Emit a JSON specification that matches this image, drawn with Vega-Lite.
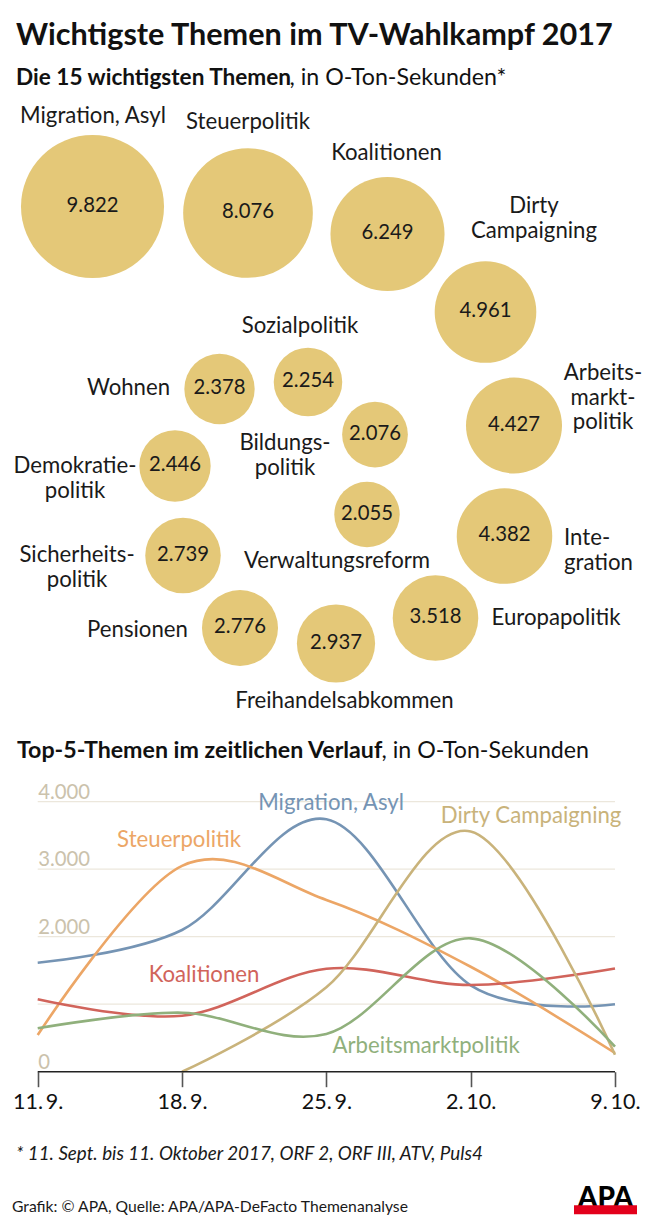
{
  "$schema": "https://vega.github.io/schema/vega-lite/v6.json",
  "padding": 0,
  "spacing": 0,
  "bounds": "flush",
  "background": "white",
  "config": {
    "font": "Lato",
    "view": {"stroke": null},
    "text": {"font": "Lato"},
    "axis": {"labelFont": "Lato"},
    "locale": {
      "number": {"decimal": ",", "thousands": ".", "grouping": [3], "currency": ["", " €"]}
    }
  },
  "datasets": {
    "themen": [
      {"thema": "Migration, Asyl", "etikett": "Migration, Asyl", "sekunden": 9822, "x": 92.5, "y": 206.5, "tx": 93, "ty": 123},
      {"thema": "Steuerpolitik", "etikett": "Steuerpolitik", "sekunden": 8076, "x": 248, "y": 213, "tx": 248, "ty": 129},
      {"thema": "Koalitionen", "etikett": "Koalitionen", "sekunden": 6249, "x": 387.5, "y": 234, "tx": 386.5, "ty": 160},
      {"thema": "Dirty Campaigning", "etikett": "Dirty\nCampaigning", "sekunden": 4961, "x": 485.5, "y": 312, "tx": 534, "ty": 213},
      {"thema": "Arbeitsmarktpolitik", "etikett": "Arbeits-\nmarkt-\npolitik", "sekunden": 4427, "x": 514, "y": 425.5, "tx": 603, "ty": 380},
      {"thema": "Integration", "etikett": "Inte-\ngration", "sekunden": 4382, "x": 504.5, "y": 536, "tx": 564, "ty": 545},
      {"thema": "Europapolitik", "etikett": "Europapolitik", "sekunden": 3518, "x": 435.5, "y": 618, "tx": 556, "ty": 625},
      {"thema": "Freihandelsabkommen", "etikett": "Freihandelsabkommen", "sekunden": 2937, "x": 336, "y": 643.5, "tx": 344.5, "ty": 708},
      {"thema": "Pensionen", "etikett": "Pensionen", "sekunden": 2776, "x": 240, "y": 628, "tx": 137.5, "ty": 637},
      {"thema": "Sicherheitspolitik", "etikett": "Sicherheits-\npolitik", "sekunden": 2739, "x": 183, "y": 555.5, "tx": 77, "ty": 562},
      {"thema": "Demokratiepolitik", "etikett": "Demokratie-\npolitik", "sekunden": 2446, "x": 175, "y": 466, "tx": 75, "ty": 473},
      {"thema": "Wohnen", "etikett": "Wohnen", "sekunden": 2378, "x": 219.5, "y": 389, "tx": 128.5, "ty": 395},
      {"thema": "Sozialpolitik", "etikett": "Sozialpolitik", "sekunden": 2254, "x": 308, "y": 382, "tx": 300, "ty": 333},
      {"thema": "Bildungspolitik", "etikett": "Bildungs-\npolitik", "sekunden": 2076, "x": 375, "y": 434.5, "tx": 285, "ty": 450},
      {"thema": "Verwaltungsreform", "etikett": "Verwaltungsreform", "sekunden": 2055, "x": 367, "y": 514.5, "tx": 337, "ty": 568}
    ],
    "verlauf": [
      {"datum": "2017-09-11", "thema": "Migration, Asyl", "sekunden": 1615},
      {"datum": "2017-09-18", "thema": "Migration, Asyl", "sekunden": 2100},
      {"datum": "2017-09-25", "thema": "Migration, Asyl", "sekunden": 3740},
      {"datum": "2017-10-02", "thema": "Migration, Asyl", "sekunden": 1280},
      {"datum": "2017-10-09", "thema": "Migration, Asyl", "sekunden": 1000},
      {"datum": "2017-09-11", "thema": "Steuerpolitik", "sekunden": 543},
      {"datum": "2017-09-18", "thema": "Steuerpolitik", "sekunden": 3050},
      {"datum": "2017-09-25", "thema": "Steuerpolitik", "sekunden": 2545},
      {"datum": "2017-10-02", "thema": "Steuerpolitik", "sekunden": 1555},
      {"datum": "2017-10-09", "thema": "Steuerpolitik", "sekunden": 277},
      {"datum": "2017-09-11", "thema": "Koalitionen", "sekunden": 1072},
      {"datum": "2017-09-18", "thema": "Koalitionen", "sekunden": 830},
      {"datum": "2017-09-25", "thema": "Koalitionen", "sekunden": 1525},
      {"datum": "2017-10-02", "thema": "Koalitionen", "sekunden": 1284},
      {"datum": "2017-10-09", "thema": "Koalitionen", "sekunden": 1530},
      {"datum": "2017-09-18", "thema": "Dirty Campaigning", "sekunden": 0},
      {"datum": "2017-09-25", "thema": "Dirty Campaigning", "sekunden": 1250},
      {"datum": "2017-10-02", "thema": "Dirty Campaigning", "sekunden": 3560},
      {"datum": "2017-10-09", "thema": "Dirty Campaigning", "sekunden": 250},
      {"datum": "2017-09-11", "thema": "Arbeitsmarktpolitik", "sekunden": 643},
      {"datum": "2017-09-18", "thema": "Arbeitsmarktpolitik", "sekunden": 874},
      {"datum": "2017-09-25", "thema": "Arbeitsmarktpolitik", "sekunden": 560},
      {"datum": "2017-10-02", "thema": "Arbeitsmarktpolitik", "sekunden": 1976},
      {"datum": "2017-10-09", "thema": "Arbeitsmarktpolitik", "sekunden": 370}
    ],
    "reihen": [
      {"thema": "Migration, Asyl", "datum": "2017-09-25T05:30:00Z", "sekunden": 3877},
      {"thema": "Steuerpolitik", "datum": "2017-09-17T20:31:00Z", "sekunden": 3329},
      {"thema": "Koalitionen", "datum": "2017-09-19T01:36:00Z", "sekunden": 1329},
      {"thema": "Dirty Campaigning", "datum": "2017-10-04T22:19:00Z", "sekunden": 3684},
      {"thema": "Arbeitsmarktpolitik", "datum": "2017-09-29T20:05:00Z", "sekunden": 277}
    ],
    "raster": [
      {"stufe": 1000}, {"stufe": 2000}, {"stufe": 3000}, {"stufe": 4000}
    ]
  },
  "vconcat": [
    {
      "width": 650,
      "height": 770,
      "layer": [
        {
          "data": {"values": [{}]},
          "mark": {"type": "text", "text": "Wichtigste Themen im TV-Wahlkampf 2017", "align": "left", "baseline": "alphabetic", "fontSize": 30.6, "fontWeight": "bold", "color": "#111111"},
          "encoding": {
            "x": {"datum": 16, "type": "quantitative", "scale": {"domain": [0, 650], "nice": false, "zero": false}, "axis": null},
            "y": {"datum": 45, "type": "quantitative", "scale": {"domain": [0, 770], "nice": false, "zero": false, "reverse": true}, "axis": null}
          }
        },
        {
          "data": {"values": [{}]},
          "mark": {"type": "text", "text": "Die 15 wichtigsten Themen", "align": "left", "baseline": "alphabetic", "fontSize": 22.6, "fontWeight": "bold", "color": "#111111"},
          "encoding": {
            "x": {"datum": 16, "type": "quantitative", "axis": null},
            "y": {"datum": 85, "type": "quantitative", "axis": null}
          }
        },
        {
          "data": {"values": [{}]},
          "mark": {"type": "text", "text": ", in O-Ton-Sekunden*", "align": "left", "baseline": "alphabetic", "fontSize": 23.2, "color": "#111111"},
          "encoding": {
            "x": {"datum": 289.5, "type": "quantitative", "axis": null},
            "y": {"datum": 85, "type": "quantitative", "axis": null}
          }
        },
        {
          "data": {"name": "themen"},
          "mark": {"type": "circle", "color": "#e4c878", "opacity": 1, "stroke": null},
          "encoding": {
            "x": {"field": "x", "type": "quantitative", "axis": null},
            "y": {"field": "y", "type": "quantitative", "axis": null},
            "size": {"field": "sekunden", "type": "quantitative", "scale": {"type": "linear", "domain": [0, 10000], "range": [0, 20824], "zero": true}, "legend": null}
          }
        },
        {
          "data": {"name": "themen"},
          "mark": {"type": "text", "align": "center", "baseline": "middle", "fontSize": 20.3, "color": "#1a1a1a", "dy": -1},
          "encoding": {
            "x": {"field": "x", "type": "quantitative", "axis": null},
            "y": {"field": "y", "type": "quantitative", "axis": null},
            "text": {"field": "sekunden", "type": "quantitative", "format": ",d"}
          }
        },
        {
          "data": {"name": "themen"},
          "transform": [{"filter": "datum.thema !== 'Integration'"}],
          "mark": {"type": "text", "align": "center", "baseline": "alphabetic", "fontSize": 22.2, "color": "#1a1a1a", "lineBreak": "\n", "lineHeight": 24.5},
          "encoding": {
            "x": {"field": "tx", "type": "quantitative", "axis": null},
            "y": {"field": "ty", "type": "quantitative", "axis": null},
            "text": {"field": "etikett", "type": "nominal"}
          }
        },
        {
          "data": {"name": "themen"},
          "transform": [{"filter": "datum.thema === 'Integration'"}],
          "mark": {"type": "text", "align": "left", "baseline": "alphabetic", "fontSize": 22.2, "color": "#1a1a1a", "lineBreak": "\n", "lineHeight": 24.5},
          "encoding": {
            "x": {"field": "tx", "type": "quantitative", "axis": null},
            "y": {"field": "ty", "type": "quantitative", "axis": null},
            "text": {"field": "etikett", "type": "nominal"}
          }
        },
        {
          "data": {"values": [{}]},
          "mark": {"type": "text", "text": "Top-5-Themen im zeitlichen Verlauf", "align": "left", "baseline": "alphabetic", "fontSize": 23.2, "fontWeight": "bold", "color": "#111111"},
          "encoding": {
            "x": {"datum": 17, "type": "quantitative", "axis": null},
            "y": {"datum": 758, "type": "quantitative", "axis": null}
          }
        },
        {
          "data": {"values": [{}]},
          "mark": {"type": "text", "text": ", in O-Ton-Sekunden", "align": "left", "baseline": "alphabetic", "fontSize": 23.2, "color": "#111111"},
          "encoding": {
            "x": {"datum": 381.5, "type": "quantitative", "axis": null},
            "y": {"datum": 758, "type": "quantitative", "axis": null}
          }
        }
      ]
    },
    {
      "width": 650,
      "height": 301.7,
      "layer": [
        {
          "data": {"name": "raster"},
          "mark": {"type": "rule", "color": "#ece7dc", "strokeWidth": 1.3},
          "encoding": {
            "x": {"datum": {"year": 2017, "month": 9, "date": 11, "utc": true}, "type": "temporal", "title": null},
            "x2": {"datum": {"year": 2017, "month": 10, "date": 9, "utc": true}},
            "y": {"field": "stufe", "type": "quantitative", "title": null}
          }
        },
        {
          "data": {"name": "verlauf"},
          "mark": {"type": "line", "interpolate": "cardinal", "strokeWidth": 2.6},
          "encoding": {
            "x": {
              "field": "datum", "type": "temporal", "title": null,
              "scale": {"type": "utc", "domain": [
                {"year": 2017, "month": 9, "date": 9, "hours": 4, "minutes": 6, "utc": true},
                {"year": 2017, "month": 10, "date": 10, "hours": 16, "minutes": 45, "utc": true}
              ]},
              "axis": {
                "values": [
                  {"year": 2017, "month": 9, "date": 11, "utc": true},
                  {"year": 2017, "month": 9, "date": 18, "utc": true},
                  {"year": 2017, "month": 9, "date": 25, "utc": true},
                  {"year": 2017, "month": 10, "date": 2, "utc": true},
                  {"year": 2017, "month": 10, "date": 9, "utc": true}
                ],
                "format": "%-d.\u2009%-m.",
                "domain": false, "grid": false, "ticks": true,
                "tickSize": 15, "tickColor": "#555555", "tickWidth": 1.6,
                "labelFontSize": 21.5, "labelColor": "#111111",
                "labelPadding": 21.3, "labelBaseline": "alphabetic",
                "labelFlush": false, "labelOverlap": false, "title": null
              }
            },
            "y": {
              "field": "sekunden", "type": "quantitative", "title": null,
              "scale": {"domain": [0, 4470], "nice": false, "zero": true},
              "axis": {
                "values": [0, 2000, 3000, 4000], "format": ",d",
                "domain": false, "ticks": false, "grid": false,
                "labelAlign": "left", "labelBaseline": "alphabetic",
                "labelPadding": -37.7, "labelOffset": -3.5,
                "labelFontSize": 20.3, "labelColor": "#cbc2ac", "title": null
              }
            },
            "color": {
              "field": "thema", "type": "nominal",
              "scale": {
                "domain": ["Migration, Asyl", "Steuerpolitik", "Koalitionen", "Dirty Campaigning", "Arbeitsmarktpolitik"],
                "range": ["#7594b4", "#eca666", "#d1645b", "#c9b37b", "#90b07c"]
              },
              "legend": null
            }
          }
        },
        {
          "data": {"values": [{}]},
          "mark": {"type": "rule", "color": "#222222", "strokeWidth": 1.5},
          "encoding": {
            "x": {"datum": {"year": 2017, "month": 9, "date": 11, "utc": true}, "type": "temporal", "title": null},
            "x2": {"datum": {"year": 2017, "month": 10, "date": 9, "utc": true}},
            "y": {"datum": 0, "type": "quantitative", "title": null}
          }
        },
        {
          "data": {"name": "reihen"},
          "mark": {"type": "text", "align": "center", "baseline": "alphabetic", "fontSize": 22.2},
          "encoding": {
            "x": {"field": "datum", "type": "temporal", "title": null},
            "y": {"field": "sekunden", "type": "quantitative", "title": null},
            "text": {"field": "thema", "type": "nominal"},
            "color": {"field": "thema", "type": "nominal", "legend": null}
          }
        }
      ]
    },
    {
      "width": 650,
      "height": 154.3,
      "layer": [
        {
          "data": {"values": [{}]},
          "mark": {"type": "text", "text": "* 11. Sept. bis 11. Oktober 2017, ORF 2, ORF III, ATV, Puls4", "align": "left", "baseline": "alphabetic", "fontSize": 18.8, "fontStyle": "italic", "color": "#1a1a1a"},
          "encoding": {
            "x": {"datum": 16, "type": "quantitative", "scale": {"domain": [0, 650], "nice": false, "zero": false}, "axis": null},
            "y": {"datum": 1160, "type": "quantitative", "scale": {"domain": [1071.7, 1226], "nice": false, "zero": false, "reverse": true}, "axis": null}
          }
        },
        {
          "data": {"values": [{}]},
          "mark": {"type": "text", "text": "Grafik: © APA, Quelle: APA/APA-DeFacto Themenanalyse", "align": "left", "baseline": "alphabetic", "fontSize": 15.7, "color": "#1a1a1a"},
          "encoding": {
            "x": {"datum": 12, "type": "quantitative", "axis": null},
            "y": {"datum": 1212, "type": "quantitative", "axis": null}
          }
        },
        {
          "data": {"values": [{}]},
          "mark": {"type": "text", "text": "APA", "align": "center", "baseline": "alphabetic", "fontSize": 28, "fontWeight": 900, "color": "#000000"},
          "encoding": {
            "x": {"datum": 605.5, "type": "quantitative", "axis": null},
            "y": {"datum": 1207, "type": "quantitative", "axis": null}
          }
        },
        {
          "data": {"values": [{}]},
          "mark": {"type": "rect", "color": "#e3001b"},
          "encoding": {
            "x": {"datum": 574, "type": "quantitative", "axis": null},
            "x2": {"datum": 637},
            "y": {"datum": 1205, "type": "quantitative", "axis": null},
            "y2": {"datum": 1214}
          }
        }
      ]
    }
  ]
}
